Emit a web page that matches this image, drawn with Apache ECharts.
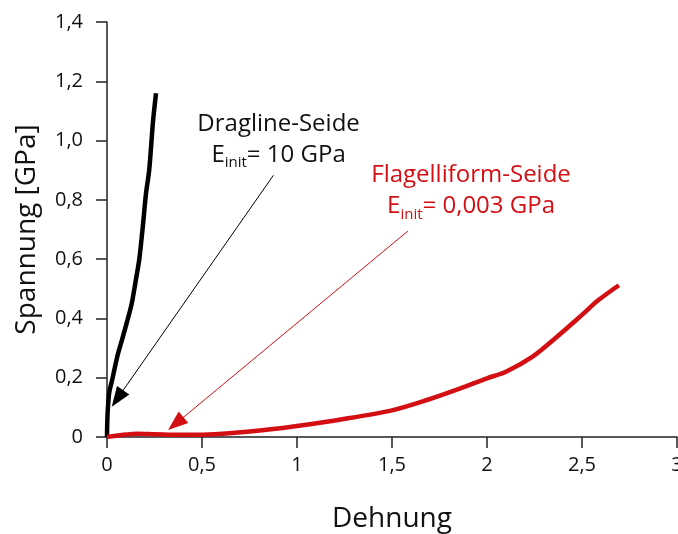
<!DOCTYPE html>
<html>
<head>
<meta charset="utf-8">
<script src="https://cdn.jsdelivr.net/npm/echarts@6/dist/echarts.min.js"></script>
<style>
  html, body { margin: 0; padding: 0; background: #fff; }
  #main { width: 678px; height: 534px; }
</style>
</head>
<body>
<div id="main"></div>
<script>
// Dragline-Seide (schwarz)
var draglineStrain = [0, 0.001, 0.004, 0.012, 0.027, 0.054, 0.08, 0.108, 0.13, 0.152, 0.17, 0.19, 0.205, 0.222, 0.232, 0.243, 0.258];
var draglineStress = [0, 0.04, 0.09, 0.15, 0.192, 0.271, 0.33, 0.395, 0.45, 0.53, 0.60, 0.72, 0.82, 0.90, 0.98, 1.07, 1.16];

// Flagelliform-Seide (rot)
var flagStrain = [0, 0.08, 0.163, 0.25, 0.325, 0.506, 0.687, 0.85, 1.0, 1.23, 1.5, 1.68, 1.86, 2.0, 2.1, 2.24, 2.37, 2.5, 2.585, 2.694];
var flagStress = [0, 0.007, 0.011, 0.009, 0.008, 0.008, 0.015, 0.025, 0.037, 0.059, 0.090, 0.124, 0.164, 0.198, 0.220, 0.271, 0.339, 0.412, 0.461, 0.512];

var xTickLabels = ['0', '0,5', '1', '1,5', '2', '2,5', '3'];
var yTickLabels = ['0', '0,2', '0,4', '0,6', '0,8', '1,0', '1,2', '1,4'];

var RED = '#d40f14';
var FONT = 'Open Sans';

function pairs(xs, ys) {
	var out = [];
	for (var i = 0; i < xs.length; i++) out.push([xs[i], ys[i]]);
	return out;
}

var axisStyle = { lineStyle: { color: '#222', width: 1.5 } };

var richText = {
	t: { fontSize: 24, lineHeight: 31, fontFamily: FONT },
	e: { fontSize: 24, lineHeight: 31, fontFamily: FONT },
	s: { fontSize: 15, lineHeight: 14, verticalAlign: 'bottom', fontFamily: FONT }
};

var myChart = echarts.init(document.getElementById('main'));
myChart.setOption({
	animation: false,
	textStyle: { fontFamily: FONT },
	grid: { left: 107, right: 1, top: 22, bottom: 97, containLabel: false, outerBoundsMode: 'none' },
	xAxis: {
		type: 'value',
		min: 0, max: 3, interval: 0.5,
		name: 'Dehnung',
		nameLocation: 'middle',
		nameGap: 68,
		nameTextStyle: { fontSize: 28, color: '#111', fontFamily: FONT },
		axisLine: axisStyle,
		axisTick: { show: true, length: 11, lineStyle: { color: '#222', width: 1.5 } },
		splitLine: { show: false },
		axisLabel: {
			fontSize: 20, color: '#111', margin: 18,
			formatter: function (v, i) { return xTickLabels[i]; }
		}
	},
	yAxis: {
		type: 'value',
		min: 0, max: 1.4, interval: 0.2,
		name: 'Spannung [GPa]',
		nameLocation: 'middle',
		nameGap: 66,
		nameTextStyle: { fontSize: 28, color: '#111', fontFamily: FONT },
		axisLine: axisStyle,
		axisTick: { show: true, length: 11, lineStyle: { color: '#222', width: 1.5 } },
		splitLine: { show: false },
		axisLabel: {
			fontSize: 20, color: '#111', margin: 24,
			formatter: function (v, i) { return yTickLabels[i]; }
		}
	},
	series: [
		{
			name: 'Dragline-Seide',
			type: 'line',
			data: pairs(draglineStrain, draglineStress),
			smooth: 0.3,
			showSymbol: false,
			lineStyle: { color: '#000', width: 4.5 },
			itemStyle: { color: '#000' },
			markLine: {
				silent: true,
				symbol: ['none', 'triangle'],
				symbolSize: [15, 20],
				label: { show: false },
				lineStyle: { color: '#000', width: 1, type: 'solid' },
				data: [[{ coord: [0.876, 0.883] }, { coord: [0.055, 0.130] }]]
			},
			markPoint: {
				symbolSize: 0,
				label: {
					show: true, position: 'inside', color: '#111',
					formatter: '{t|Dragline-Seide}\n{e|E}{s|init}{e|= 10 GPa}',
					rich: richText
				},
				data: [{ coord: [0.903, 1.004] }]
			}
		},
		{
			name: 'Flagelliform-Seide',
			type: 'line',
			data: pairs(flagStrain, flagStress),
			smooth: 0.3,
			showSymbol: false,
			lineStyle: { color: RED, width: 4.5 },
			itemStyle: { color: RED },
			markLine: {
				silent: true,
				symbol: ['none', 'triangle'],
				symbolSize: [15, 20],
				label: { show: false },
				lineStyle: { color: RED, width: 1, type: 'solid' },
				data: [[{ coord: [1.584, 0.695] }, { coord: [0.362, 0.045] }]]
			},
			markPoint: {
				symbolSize: 0,
				label: {
					show: true, position: 'inside', color: RED,
					formatter: '{t|Flagelliform-Seide}\n{e|E}{s|init}{e|= 0,003 GPa}',
					rich: richText
				},
				data: [{ coord: [1.916, 0.830] }]
			}
		}
	]
});
</script>
</body>
</html>
